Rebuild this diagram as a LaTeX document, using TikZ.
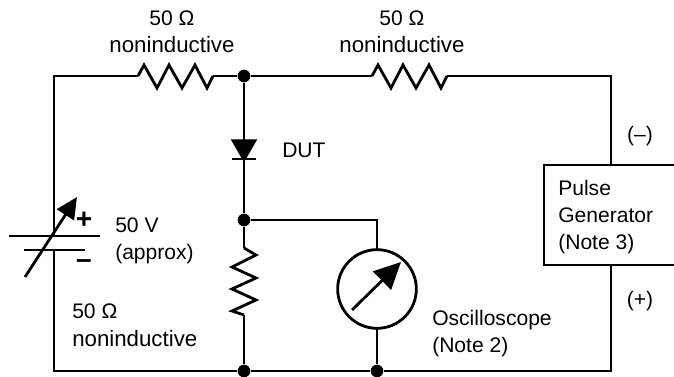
\documentclass[tikz,border=0pt]{standalone}
\usepackage{fontspec}
\setmainfont{Liberation Sans}
\usetikzlibrary{arrows.meta, positioning, shapes.geometric}
\definecolor{wirecol}{RGB}{0,0,0}
\newcommand{\shortsize}{\fontsize{15.8}{20.4}\selectfont}

\begin{document}
\begin{tikzpicture}[
	x=0.75pt,
	y=-0.75pt,
	wire/.style={
		draw=wirecol,
		line width=2.1pt
	},
	junction/.style={
		circle,
		fill=wirecol,
		inner sep=0pt,
		minimum size=9.5pt
	},
	label/.style={
		align=left,
		inner sep=0pt,
		anchor=base west,
		font=\shortsize
	},
	widelabel/.style={
		label,
		font=\fontsize{16.7}{20.4}\selectfont
	},
	centerlabel/.style={
		widelabel,
		align=center,
		anchor=base
	},
	signlabel/.style={
		centerlabel,
		font=\fontsize{21}{21}\selectfont\bfseries
	},
	diode/.style={
		regular polygon,
		regular polygon sides=3,
		shape border rotate=180,
		fill=wirecol,
		inner sep=0pt,
		minimum size=23pt
	},
	meter/.style={
		wire,
		circle,
		fill=white,
		inner sep=0pt,
		outer sep=0pt,
		minimum size=59pt
	},
	pulsebox/.style={
		wire,
		rectangle,
		fill=white,
		inner sep=0pt,
		outer sep=0pt,
		minimum width=102pt,
		minimum height=75pt,
		anchor=north west
	},
	scopepointer/.style={
		wire,
		-{Triangle[length=20pt,width=19pt]}
	},
	battpointer/.style={
		wire,
		-{Triangle[length=16pt,width=15pt]}
	}
	]
	\useasboundingbox (0,0) rectangle (674,377);

	% Corners and junctions
	\coordinate (topleft) at (54,76);
	\coordinate (botleft) at (54,371);
	\coordinate (topright) at (611,76);
	\coordinate (botright) at (611,371);
	\coordinate (midtee) at (377,220);
	\node[junction] (jtop) at (244,76) {};
	\node[junction] (jmid) at (244,220) {};
	\node[junction] (jbot) at (244,371) {};
	\node[junction] (jscope) at (377,371) {};

	% Components
	\node[diode] (dut) at (244,147) {};
	\coordinate (dutbarl) at (232,159);
	\coordinate (dutbarr) at (256,159);
	\node[meter] (scope) at (377,289) {};
	\coordinate (scopetail) at (352,310);
	\coordinate (scopetip) at (401,262);
	\node[pulsebox] (pulse) at (544,165) {};
	\coordinate (pulsetop) at (pulse.north -| topright);
	\coordinate (pulsebot) at (pulse.south -| topright);

	% Battery
	\coordinate (batttop) at (54,236);
	\coordinate (battbot) at (54,250);
	\coordinate (platela) at (9,236);
	\coordinate (platelb) at (100,236);
	\coordinate (platesa) at (24,250);
	\coordinate (platesb) at (85,250);
	\coordinate (batttail) at (25,277);
	\coordinate (batttip) at (77,197);

	% Resistor end points
	\coordinate (ronea) at (138,76);
	\coordinate (roneb) at (213,76);
	\coordinate (rtwoa) at (372,76);
	\coordinate (rtwob) at (447,76);
	\coordinate (rthreea) at (244,248);
	\coordinate (rthreeb) at (244,315);

	% Wires
	\draw[wire] (jtop) -- (jmid);
	\draw[wire] (dutbarl) -- (dutbarr);
	\draw[wire] (jmid) -- (rthreea);
	\draw[wire] (rthreeb) -- (jbot);
	\draw[wire] (jmid) -- (midtee) -- (scope);
	\draw[wire] (scope) -- (jscope);
	\draw[wire] (batttop) -- (topleft) -- (ronea);
	\draw[wire] (roneb) -- (jtop);
	\draw[wire] (jtop) -- (rtwoa);
	\draw[wire] (rtwob) -- (topright) -- (pulsetop);
	\draw[wire] (pulsebot) -- (botright) -- (jscope);
	\draw[wire] (jscope) -- (jbot);
	\draw[wire] (jbot) -- (botleft) -- (battbot);

	% Resistors
	\draw[wire] (ronea) -- ++(6,-11) -- ++(13,23) -- ++(12,-23) -- ++(13,23) -- ++(13,-23) -- ++(12,23) -- (roneb);
	\draw[wire] (rtwoa) -- ++(6,-11) -- ++(13,23) -- ++(12,-23) -- ++(13,23) -- ++(13,-23) -- ++(12,23) -- (rtwob);
	\draw[wire] (rthreea) -- ++(12,7) -- ++(-24,12) -- ++(24,11) -- ++(-24,11) -- ++(24,11) -- ++(-24,11) -- (rthreeb);

	% Battery plates and pointers
	\draw[wire] (platela) -- (platelb);
	\draw[wire] (platesa) -- (platesb);
	\draw[battpointer] (batttail) -- (batttip);
	\draw[scopepointer] (scopetail) -- (scopetip);

	% Labels
	\node[centerlabel] (lblone) at (172,53) {{\shortsize 50 Ω}\\noninductive};
	\node[centerlabel] (lbltwo) at (402,53) {{\shortsize 50 Ω}\\noninductive};
	\node[label] (lbldut) at (282,158) {DUT};
	\node[label] (lblvolt) at (115,260) {50 V\\(approx)};
	\node[widelabel] (lblthree) at (72,346) {{\shortsize 50 Ω}\\noninductive};
	\node[label] (lblscope) at (432,353) {Oscilloscope\\(Note 2)};
	\node[label] (lblpulse) at (558,250) {Pulse\\Generator\\(Note 3)};
	\node[label, anchor=base] (lblminus) at (640,142) {(–)};
	\node[label, anchor=base] (lblplus) at (640,307) {(+)};
	\node[signlabel] (lblbattp) at (84,229) {+};
	\node[signlabel] (lblbattm) at (84,269) {–};
\end{tikzpicture}
\end{document}
